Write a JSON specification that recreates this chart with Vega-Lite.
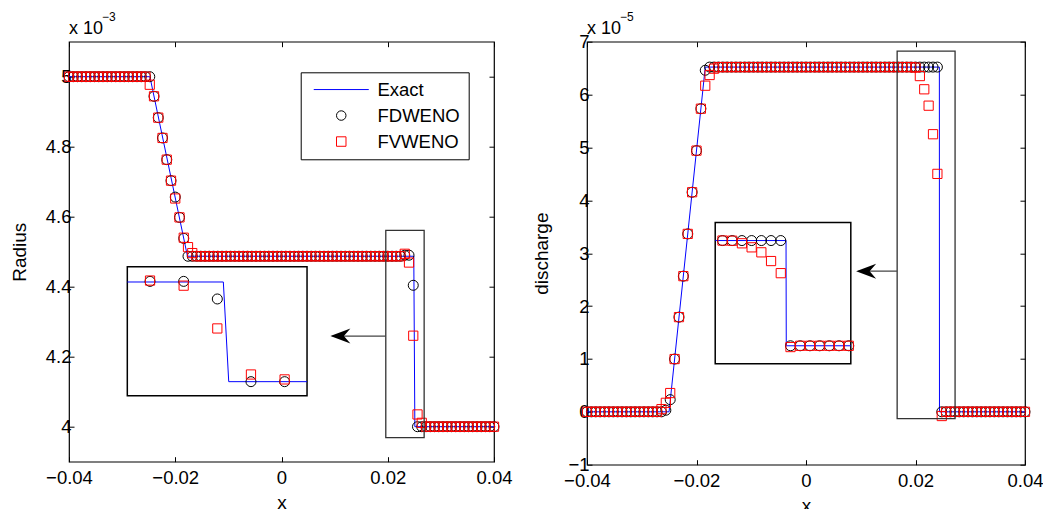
{
  "$schema": "https://vega.github.io/schema/vega-lite/v6.json",
  "padding": {"left": 9, "top": 9.7, "right": 5, "bottom": 0},
  "spacing": 19,
  "config": {
    "font": "Liberation Sans",
    "view": {"stroke": "#000", "strokeWidth": 1.2},
    "axis": {"grid": false, "domain": false, "labelFont": "Liberation Sans", "titleFont": "Liberation Sans", "labelFontSize": 18.5, "titleFontSize": 19, "titleFontWeight": "normal", "labelColor": "#000", "titleColor": "#000", "tickColor": "#000", "tickSize": -5, "tickWidth": 1, "labelFlush": false, "labelOverlap": false},
    "axisX": {"labelPadding": 12, "titlePadding": 6},
    "axisY": {"labelPadding": 3, "titlePadding": 16},
    "legend": {"orient": "none", "legendX": 231.7, "legendY": 30.6, "strokeColor": "#000", "fillColor": "#fff", "padding": 8, "labelFont": "Liberation Sans", "labelFontSize": 18.5, "labelColor": "#000", "symbolSize": 90, "symbolStrokeWidth": 1, "symbolOffset": 23.3, "labelOffset": 27, "rowPadding": 7, "title": null}
  },
  "datasets": {
    "one": [{}],
    "leftExact": [{"x": -0.04, "Exact": 5}, {"x": -0.02477, "Exact": 5}, {"x": -0.0177, "Exact": 4.487}, {"x": 0.0249, "Exact": 4.487}, {"x": 0.0251, "Exact": 4}, {"x": 0.04, "Exact": 4}],
    "leftInsetExact": [{"x": 0.02266, "Exact": 4.487}, {"x": 0.024943, "Exact": 4.487}, {"x": 0.025071, "Exact": 4}, {"x": 0.026933, "Exact": 4}],
    "rightExact": [{"x": -0.04, "Exact": 0}, {"x": -0.02501, "Exact": 0}, {"x": -0.0184, "Exact": 6.52}, {"x": 0.02436, "Exact": 6.52}, {"x": 0.02438, "Exact": 0}, {"x": 0.04, "Exact": 0}],
    "rightInsetExact": [{"x": 0.0186, "Exact": 6.52}, {"x": 0.024433, "Exact": 6.52}, {"x": 0.024453, "Exact": 0}, {"x": 0.029768, "Exact": 0}],
    "leftData": [
      {"x": -0.04, "FDWENO": 5, "FVWENO": 5}, {"x": -0.0392, "FDWENO": 5, "FVWENO": 5}, {"x": -0.0384, "FDWENO": 5, "FVWENO": 5}, {"x": -0.0376, "FDWENO": 5, "FVWENO": 5}, {"x": -0.0368, "FDWENO": 5, "FVWENO": 5}, {"x": -0.036, "FDWENO": 5, "FVWENO": 5}, {"x": -0.0352, "FDWENO": 5, "FVWENO": 5}, {"x": -0.0344, "FDWENO": 5, "FVWENO": 5}, {"x": -0.0336, "FDWENO": 5, "FVWENO": 5}, {"x": -0.0328, "FDWENO": 5, "FVWENO": 5},
      {"x": -0.032, "FDWENO": 5, "FVWENO": 5}, {"x": -0.0312, "FDWENO": 5, "FVWENO": 5}, {"x": -0.0304, "FDWENO": 5, "FVWENO": 5}, {"x": -0.0296, "FDWENO": 5, "FVWENO": 5}, {"x": -0.0288, "FDWENO": 5, "FVWENO": 5}, {"x": -0.028, "FDWENO": 5, "FVWENO": 5}, {"x": -0.0272, "FDWENO": 5, "FVWENO": 5}, {"x": -0.0264, "FDWENO": 5, "FVWENO": 5}, {"x": -0.0256, "FDWENO": 5, "FVWENO": 5}, {"x": -0.0248, "FDWENO": 5, "FVWENO": 4.977},
      {"x": -0.024, "FDWENO": 4.944, "FVWENO": 4.944}, {"x": -0.0232, "FDWENO": 4.883, "FVWENO": 4.883}, {"x": -0.0224, "FDWENO": 4.825, "FVWENO": 4.825}, {"x": -0.0216, "FDWENO": 4.763, "FVWENO": 4.763}, {"x": -0.0208, "FDWENO": 4.703, "FVWENO": 4.703}, {"x": -0.02, "FDWENO": 4.656, "FVWENO": 4.652}, {"x": -0.0192, "FDWENO": 4.598, "FVWENO": 4.598}, {"x": -0.0184, "FDWENO": 4.538, "FVWENO": 4.54}, {"x": -0.0176, "FDWENO": 4.487, "FVWENO": 4.513}, {"x": -0.0168, "FDWENO": 4.487, "FVWENO": 4.496},
      {"x": -0.016, "FDWENO": 4.487, "FVWENO": 4.487}, {"x": -0.0152, "FDWENO": 4.487, "FVWENO": 4.487}, {"x": -0.0144, "FDWENO": 4.487, "FVWENO": 4.487}, {"x": -0.0136, "FDWENO": 4.487, "FVWENO": 4.487}, {"x": -0.0128, "FDWENO": 4.487, "FVWENO": 4.487}, {"x": -0.012, "FDWENO": 4.487, "FVWENO": 4.487}, {"x": -0.0112, "FDWENO": 4.487, "FVWENO": 4.487}, {"x": -0.0104, "FDWENO": 4.487, "FVWENO": 4.487}, {"x": -0.0096, "FDWENO": 4.487, "FVWENO": 4.487}, {"x": -0.0088, "FDWENO": 4.487, "FVWENO": 4.487},
      {"x": -0.008, "FDWENO": 4.487, "FVWENO": 4.487}, {"x": -0.0072, "FDWENO": 4.487, "FVWENO": 4.487}, {"x": -0.0064, "FDWENO": 4.487, "FVWENO": 4.487}, {"x": -0.0056, "FDWENO": 4.487, "FVWENO": 4.487}, {"x": -0.0048, "FDWENO": 4.487, "FVWENO": 4.487}, {"x": -0.004, "FDWENO": 4.487, "FVWENO": 4.487}, {"x": -0.0032, "FDWENO": 4.487, "FVWENO": 4.487}, {"x": -0.0024, "FDWENO": 4.487, "FVWENO": 4.487}, {"x": -0.0016, "FDWENO": 4.487, "FVWENO": 4.487}, {"x": -0.0008, "FDWENO": 4.487, "FVWENO": 4.487},
      {"x": 0, "FDWENO": 4.487, "FVWENO": 4.487}, {"x": 0.0008, "FDWENO": 4.487, "FVWENO": 4.487}, {"x": 0.0016, "FDWENO": 4.487, "FVWENO": 4.487}, {"x": 0.0024, "FDWENO": 4.487, "FVWENO": 4.487}, {"x": 0.0032, "FDWENO": 4.487, "FVWENO": 4.487}, {"x": 0.004, "FDWENO": 4.487, "FVWENO": 4.487}, {"x": 0.0048, "FDWENO": 4.487, "FVWENO": 4.487}, {"x": 0.0056, "FDWENO": 4.487, "FVWENO": 4.487}, {"x": 0.0064, "FDWENO": 4.487, "FVWENO": 4.487}, {"x": 0.0072, "FDWENO": 4.487, "FVWENO": 4.487},
      {"x": 0.008, "FDWENO": 4.487, "FVWENO": 4.487}, {"x": 0.0088, "FDWENO": 4.487, "FVWENO": 4.487}, {"x": 0.0096, "FDWENO": 4.487, "FVWENO": 4.487}, {"x": 0.0104, "FDWENO": 4.487, "FVWENO": 4.487}, {"x": 0.0112, "FDWENO": 4.487, "FVWENO": 4.487}, {"x": 0.012, "FDWENO": 4.487, "FVWENO": 4.487}, {"x": 0.0128, "FDWENO": 4.487, "FVWENO": 4.487}, {"x": 0.0136, "FDWENO": 4.487, "FVWENO": 4.487}, {"x": 0.0144, "FDWENO": 4.487, "FVWENO": 4.487}, {"x": 0.0152, "FDWENO": 4.487, "FVWENO": 4.487},
      {"x": 0.016, "FDWENO": 4.487, "FVWENO": 4.487}, {"x": 0.0168, "FDWENO": 4.487, "FVWENO": 4.487}, {"x": 0.0176, "FDWENO": 4.487, "FVWENO": 4.487}, {"x": 0.0184, "FDWENO": 4.487, "FVWENO": 4.487}, {"x": 0.0192, "FDWENO": 4.487, "FVWENO": 4.487}, {"x": 0.02, "FDWENO": 4.487, "FVWENO": 4.487}, {"x": 0.0208, "FDWENO": 4.487, "FVWENO": 4.487}, {"x": 0.0216, "FDWENO": 4.487, "FVWENO": 4.487}, {"x": 0.0224, "FDWENO": 4.487, "FVWENO": 4.487}, {"x": 0.0232, "FDWENO": 4.49, "FVWENO": 4.494},
      {"x": 0.024, "FDWENO": 4.49, "FVWENO": 4.469}, {"x": 0.0248, "FDWENO": 4.404, "FVWENO": 4.26}, {"x": 0.0256, "FDWENO": 4, "FVWENO": 4.035}, {"x": 0.0264, "FDWENO": 4, "FVWENO": 4.011}, {"x": 0.0272, "FDWENO": 4, "FVWENO": 4}, {"x": 0.028, "FDWENO": 4, "FVWENO": 4}, {"x": 0.0288, "FDWENO": 4, "FVWENO": 4}, {"x": 0.0296, "FDWENO": 4, "FVWENO": 4}, {"x": 0.0304, "FDWENO": 4, "FVWENO": 4}, {"x": 0.0312, "FDWENO": 4, "FVWENO": 4},
      {"x": 0.032, "FDWENO": 4, "FVWENO": 4}, {"x": 0.0328, "FDWENO": 4, "FVWENO": 4}, {"x": 0.0336, "FDWENO": 4, "FVWENO": 4}, {"x": 0.0344, "FDWENO": 4, "FVWENO": 4}, {"x": 0.0352, "FDWENO": 4, "FVWENO": 4}, {"x": 0.036, "FDWENO": 4, "FVWENO": 4}, {"x": 0.0368, "FDWENO": 4, "FVWENO": 4}, {"x": 0.0376, "FDWENO": 4, "FVWENO": 4}, {"x": 0.0384, "FDWENO": 4, "FVWENO": 4}, {"x": 0.0392, "FDWENO": 4, "FVWENO": 4},
      {"x": 0.04, "FDWENO": 4, "FVWENO": 4}
    ],
    "rightData": [
      {"x": -0.04, "FDWENO": 0, "FVWENO": 0}, {"x": -0.0392, "FDWENO": 0, "FVWENO": 0}, {"x": -0.0384, "FDWENO": 0, "FVWENO": 0}, {"x": -0.0376, "FDWENO": 0, "FVWENO": 0}, {"x": -0.0368, "FDWENO": 0, "FVWENO": 0}, {"x": -0.036, "FDWENO": 0, "FVWENO": 0}, {"x": -0.0352, "FDWENO": 0, "FVWENO": 0}, {"x": -0.0344, "FDWENO": 0, "FVWENO": 0}, {"x": -0.0336, "FDWENO": 0, "FVWENO": 0}, {"x": -0.0328, "FDWENO": 0, "FVWENO": 0},
      {"x": -0.032, "FDWENO": 0, "FVWENO": 0}, {"x": -0.0312, "FDWENO": 0, "FVWENO": 0}, {"x": -0.0304, "FDWENO": 0, "FVWENO": 0}, {"x": -0.0296, "FDWENO": 0, "FVWENO": 0}, {"x": -0.0288, "FDWENO": 0, "FVWENO": 0}, {"x": -0.028, "FDWENO": 0, "FVWENO": 0}, {"x": -0.0272, "FDWENO": 0, "FVWENO": 0}, {"x": -0.0264, "FDWENO": 0, "FVWENO": 0.05}, {"x": -0.0256, "FDWENO": 0.03, "FVWENO": 0.17}, {"x": -0.0248, "FDWENO": 0.23, "FVWENO": 0.355},
      {"x": -0.024, "FDWENO": 0.998, "FVWENO": 0.998}, {"x": -0.0232, "FDWENO": 1.791, "FVWENO": 1.791}, {"x": -0.0224, "FDWENO": 2.566, "FVWENO": 2.566}, {"x": -0.0216, "FDWENO": 3.365, "FVWENO": 3.365}, {"x": -0.0208, "FDWENO": 4.153, "FVWENO": 4.153}, {"x": -0.02, "FDWENO": 4.94, "FVWENO": 4.94}, {"x": -0.0192, "FDWENO": 5.733, "FVWENO": 5.733}, {"x": -0.0184, "FDWENO": 6.46, "FVWENO": 6.168}, {"x": -0.0176, "FDWENO": 6.52, "FVWENO": 6.37}, {"x": -0.0168, "FDWENO": 6.52, "FVWENO": 6.49},
      {"x": -0.016, "FDWENO": 6.52, "FVWENO": 6.52}, {"x": -0.0152, "FDWENO": 6.52, "FVWENO": 6.52}, {"x": -0.0144, "FDWENO": 6.52, "FVWENO": 6.52}, {"x": -0.0136, "FDWENO": 6.52, "FVWENO": 6.52}, {"x": -0.0128, "FDWENO": 6.52, "FVWENO": 6.52}, {"x": -0.012, "FDWENO": 6.52, "FVWENO": 6.52}, {"x": -0.0112, "FDWENO": 6.52, "FVWENO": 6.52}, {"x": -0.0104, "FDWENO": 6.52, "FVWENO": 6.52}, {"x": -0.0096, "FDWENO": 6.52, "FVWENO": 6.52}, {"x": -0.0088, "FDWENO": 6.52, "FVWENO": 6.52},
      {"x": -0.008, "FDWENO": 6.52, "FVWENO": 6.52}, {"x": -0.0072, "FDWENO": 6.52, "FVWENO": 6.52}, {"x": -0.0064, "FDWENO": 6.52, "FVWENO": 6.52}, {"x": -0.0056, "FDWENO": 6.52, "FVWENO": 6.52}, {"x": -0.0048, "FDWENO": 6.52, "FVWENO": 6.52}, {"x": -0.004, "FDWENO": 6.52, "FVWENO": 6.52}, {"x": -0.0032, "FDWENO": 6.52, "FVWENO": 6.52}, {"x": -0.0024, "FDWENO": 6.52, "FVWENO": 6.52}, {"x": -0.0016, "FDWENO": 6.52, "FVWENO": 6.52}, {"x": -0.0008, "FDWENO": 6.52, "FVWENO": 6.52},
      {"x": 0, "FDWENO": 6.52, "FVWENO": 6.52}, {"x": 0.0008, "FDWENO": 6.52, "FVWENO": 6.52}, {"x": 0.0016, "FDWENO": 6.52, "FVWENO": 6.52}, {"x": 0.0024, "FDWENO": 6.52, "FVWENO": 6.52}, {"x": 0.0032, "FDWENO": 6.52, "FVWENO": 6.52}, {"x": 0.004, "FDWENO": 6.52, "FVWENO": 6.52}, {"x": 0.0048, "FDWENO": 6.52, "FVWENO": 6.52}, {"x": 0.0056, "FDWENO": 6.52, "FVWENO": 6.52}, {"x": 0.0064, "FDWENO": 6.52, "FVWENO": 6.52}, {"x": 0.0072, "FDWENO": 6.52, "FVWENO": 6.52},
      {"x": 0.008, "FDWENO": 6.52, "FVWENO": 6.52}, {"x": 0.0088, "FDWENO": 6.52, "FVWENO": 6.52}, {"x": 0.0096, "FDWENO": 6.52, "FVWENO": 6.52}, {"x": 0.0104, "FDWENO": 6.52, "FVWENO": 6.52}, {"x": 0.0112, "FDWENO": 6.52, "FVWENO": 6.52}, {"x": 0.012, "FDWENO": 6.52, "FVWENO": 6.52}, {"x": 0.0128, "FDWENO": 6.52, "FVWENO": 6.52}, {"x": 0.0136, "FDWENO": 6.52, "FVWENO": 6.52}, {"x": 0.0144, "FDWENO": 6.52, "FVWENO": 6.52}, {"x": 0.0152, "FDWENO": 6.52, "FVWENO": 6.52},
      {"x": 0.016, "FDWENO": 6.52, "FVWENO": 6.52}, {"x": 0.0168, "FDWENO": 6.52, "FVWENO": 6.52}, {"x": 0.0176, "FDWENO": 6.52, "FVWENO": 6.52}, {"x": 0.0184, "FDWENO": 6.52, "FVWENO": 6.52}, {"x": 0.0192, "FDWENO": 6.52, "FVWENO": 6.52}, {"x": 0.02, "FDWENO": 6.52, "FVWENO": 6.51}, {"x": 0.0208, "FDWENO": 6.52, "FVWENO": 6.35}, {"x": 0.0216, "FDWENO": 6.52, "FVWENO": 6.1}, {"x": 0.0224, "FDWENO": 6.52, "FVWENO": 5.79}, {"x": 0.0232, "FDWENO": 6.52, "FVWENO": 5.25},
      {"x": 0.024, "FDWENO": 6.52, "FVWENO": 4.5}, {"x": 0.0248, "FDWENO": 0, "FVWENO": -0.08}, {"x": 0.0256, "FDWENO": 0, "FVWENO": 0}, {"x": 0.0264, "FDWENO": 0, "FVWENO": 0}, {"x": 0.0272, "FDWENO": 0, "FVWENO": 0}, {"x": 0.028, "FDWENO": 0, "FVWENO": 0}, {"x": 0.0288, "FDWENO": 0, "FVWENO": 0}, {"x": 0.0296, "FDWENO": 0, "FVWENO": 0}, {"x": 0.0304, "FDWENO": 0, "FVWENO": 0}, {"x": 0.0312, "FDWENO": 0, "FVWENO": 0},
      {"x": 0.032, "FDWENO": 0, "FVWENO": 0}, {"x": 0.0328, "FDWENO": 0, "FVWENO": 0}, {"x": 0.0336, "FDWENO": 0, "FVWENO": 0}, {"x": 0.0344, "FDWENO": 0, "FVWENO": 0}, {"x": 0.0352, "FDWENO": 0, "FVWENO": 0}, {"x": 0.036, "FDWENO": 0, "FVWENO": 0}, {"x": 0.0368, "FDWENO": 0, "FVWENO": 0}, {"x": 0.0376, "FDWENO": 0, "FVWENO": 0}, {"x": 0.0384, "FDWENO": 0, "FVWENO": 0}, {"x": 0.0392, "FDWENO": 0, "FVWENO": 0},
      {"x": 0.04, "FDWENO": 0, "FVWENO": 0}
    ]
  },
  "hconcat": [
    {
      "width": 425,
      "height": 420,
      "resolve": {"scale": {"x": "independent", "y": "independent"}},
      "layer": [
        {
          "resolve": {"axis": {"x": "independent", "y": "independent"}},
          "layer": [
            {
              "layer": [
                {
                  "data": {"name": "leftExact"},
                  "transform": [{"fold": ["Exact"], "as": ["method", "value"]}],
                  "mark": {"type": "line", "strokeWidth": 1},
                  "encoding": {
                    "x": {"field": "x", "type": "quantitative", "scale": {"domain": [-0.04, 0.04], "nice": false, "zero": false}, "axis": {"title": "x", "values": [-0.04, -0.02, 0, 0.02, 0.04], "format": "~g"}},
                    "y": {"field": "value", "type": "quantitative", "scale": {"domain": [3.9, 5.1], "nice": false, "zero": false}, "axis": {"title": "Radius", "values": [4, 4.2, 4.4, 4.6, 4.8, 5], "format": "~g"}},
                    "color": {"field": "method", "type": "nominal", "scale": {"domain": ["Exact", "FDWENO", "FVWENO"], "range": ["#0000ff", "#000000", "#ff0000"]}, "legend": {"title": null}}
                  }
                },
                {
                  "data": {"name": "leftData"},
                  "transform": [{"fold": ["FDWENO"], "as": ["method", "value"]}],
                  "mark": {"type": "point", "filled": false, "size": 100, "strokeWidth": 1, "opacity": 1},
                  "encoding": {
                    "x": {"field": "x", "type": "quantitative"},
                    "y": {"field": "value", "type": "quantitative"},
                    "color": {"field": "method", "type": "nominal"},
                    "shape": {"field": "method", "type": "nominal", "scale": {"domain": ["Exact", "FDWENO", "FVWENO"], "range": ["M-5.8,0L5.8,0", "circle", "square"]}, "legend": {"title": null}}
                  }
                },
                {
                  "data": {"name": "leftData"},
                  "transform": [{"fold": ["FVWENO"], "as": ["method", "value"]}],
                  "mark": {"type": "point", "filled": false, "size": 85, "strokeWidth": 1, "opacity": 1},
                  "encoding": {
                    "x": {"field": "x", "type": "quantitative"},
                    "y": {"field": "value", "type": "quantitative"},
                    "color": {"field": "method", "type": "nominal"},
                    "shape": {"field": "method", "type": "nominal"}
                  }
                },
                {
                  "data": {"name": "one"},
                  "mark": {"type": "rect", "filled": false, "stroke": "#333", "strokeWidth": 1.3},
                  "encoding": {"x": {"datum": 0.01963, "type": "quantitative"}, "x2": {"datum": 0.02685}, "y": {"datum": 3.969, "type": "quantitative"}, "y2": {"datum": 4.561}}
                },
                {
                  "data": {"name": "one"},
                  "mark": {"type": "rule", "stroke": "#444", "strokeWidth": 1.3},
                  "encoding": {"x": {"datum": 0.0096, "type": "quantitative"}, "x2": {"datum": 0.01963}, "y": {"datum": 4.259, "type": "quantitative"}}
                },
                {
                  "data": {"name": "one"},
                  "mark": {"type": "point", "shape": "M0,0L2,-0.75L1.35,0L2,0.75Z", "size": 400, "filled": true, "color": "#000", "opacity": 1, "strokeWidth": 0},
                  "encoding": {"x": {"datum": 0.0092, "type": "quantitative"}, "y": {"datum": 4.259, "type": "quantitative"}}
                },
                {
                  "data": {"name": "one"},
                  "mark": {"type": "text", "text": "x 10", "align": "left", "baseline": "alphabetic", "dy": -8, "fontSize": 18, "font": "Liberation Sans", "color": "#000"},
                  "encoding": {"x": {"datum": -0.04, "type": "quantitative"}, "y": {"datum": 5.1, "type": "quantitative"}}
                },
                {
                  "data": {"name": "one"},
                  "mark": {"type": "text", "text": "−3", "align": "left", "baseline": "alphabetic", "dx": 33, "dy": -21, "fontSize": 12, "font": "Liberation Sans", "color": "#000"},
                  "encoding": {"x": {"datum": -0.04, "type": "quantitative"}, "y": {"datum": 5.1, "type": "quantitative"}}
                }
              ]
            },
            {
              "data": {"name": "leftExact"},
              "mark": {"type": "point", "opacity": 0},
              "encoding": {
                "x": {"field": "x", "type": "quantitative", "axis": {"orient": "top", "labels": false, "title": null, "values": [-0.04, -0.02, 0, 0.02, 0.04]}},
                "y": {"field": "Exact", "type": "quantitative", "axis": {"orient": "right", "labels": false, "title": null, "values": [4, 4.2, 4.4, 4.6, 4.8, 5]}}
              }
            }
          ]
        },
        {
          "layer": [
            {
              "data": {"name": "one"},
              "mark": {"type": "rect", "fill": "#fff", "stroke": "#000", "strokeWidth": 1.5},
              "encoding": {"x": {"datum": 0.02266, "type": "quantitative", "scale": {"domain": [0.021274, 0.031378], "nice": false, "zero": false}, "axis": null}, "x2": {"datum": 0.026933}, "y": {"datum": 3.9316, "type": "quantitative", "scale": {"domain": [3.609, 5.661], "nice": false, "zero": false}, "axis": null}, "y2": {"datum": 4.5617}}
            },
            {
              "data": {"name": "leftInsetExact"},
              "transform": [{"fold": ["Exact"], "as": ["method", "value"]}],
              "mark": {"type": "line", "strokeWidth": 1},
              "encoding": {
                "x": {"field": "x", "type": "quantitative", "axis": null},
                "y": {"field": "value", "type": "quantitative", "axis": null},
                "color": {"field": "method", "type": "nominal"}
              }
            },
            {
              "data": {"name": "leftData"},
              "transform": [{"filter": "datum.x > 0.023 && datum.x < 0.0266"}, {"fold": ["FDWENO"], "as": ["method", "value"]}],
              "mark": {"type": "point", "filled": false, "size": 100, "strokeWidth": 1, "opacity": 1},
              "encoding": {
                "x": {"field": "x", "type": "quantitative", "axis": null},
                "y": {"field": "value", "type": "quantitative", "axis": null},
                "color": {"field": "method", "type": "nominal"},
                "shape": {"field": "method", "type": "nominal"}
              }
            },
            {
              "data": {"name": "leftData"},
              "transform": [{"filter": "datum.x > 0.023 && datum.x < 0.0266"}, {"fold": ["FVWENO"], "as": ["method", "value"]}],
              "mark": {"type": "point", "filled": false, "size": 85, "strokeWidth": 1, "opacity": 1},
              "encoding": {
                "x": {"field": "x", "type": "quantitative", "axis": null},
                "y": {"field": "value", "type": "quantitative", "axis": null},
                "color": {"field": "method", "type": "nominal"},
                "shape": {"field": "method", "type": "nominal"}
              }
            }
          ]
        }
      ]
    },
    {
      "width": 438,
      "height": 423,
      "resolve": {"scale": {"x": "independent", "y": "independent"}},
      "layer": [
        {
          "resolve": {"axis": {"x": "independent", "y": "independent"}},
          "layer": [
            {
              "layer": [
                {
                  "data": {"name": "rightExact"},
                  "transform": [{"fold": ["Exact"], "as": ["method", "value"]}],
                  "mark": {"type": "line", "strokeWidth": 1},
                  "encoding": {
                    "x": {"field": "x", "type": "quantitative", "scale": {"domain": [-0.04, 0.04], "nice": false, "zero": false}, "axis": {"title": "x", "values": [-0.04, -0.02, 0, 0.02, 0.04], "format": "~g"}},
                    "y": {"field": "value", "type": "quantitative", "scale": {"domain": [-1, 7], "nice": false, "zero": false}, "axis": {"title": "discharge", "values": [-1, 0, 1, 2, 3, 4, 5, 6, 7], "format": "~g"}},
                    "color": {"field": "method", "type": "nominal"}
                  }
                },
                {
                  "data": {"name": "rightData"},
                  "transform": [{"fold": ["FDWENO"], "as": ["method", "value"]}],
                  "mark": {"type": "point", "filled": false, "size": 100, "strokeWidth": 1, "opacity": 1},
                  "encoding": {
                    "x": {"field": "x", "type": "quantitative"},
                    "y": {"field": "value", "type": "quantitative"},
                    "color": {"field": "method", "type": "nominal"},
                    "shape": {"field": "method", "type": "nominal"}
                  }
                },
                {
                  "data": {"name": "rightData"},
                  "transform": [{"fold": ["FVWENO"], "as": ["method", "value"]}],
                  "mark": {"type": "point", "filled": false, "size": 85, "strokeWidth": 1, "opacity": 1},
                  "encoding": {
                    "x": {"field": "x", "type": "quantitative"},
                    "y": {"field": "value", "type": "quantitative"},
                    "color": {"field": "method", "type": "nominal"},
                    "shape": {"field": "method", "type": "nominal"}
                  }
                },
                {
                  "data": {"name": "one"},
                  "mark": {"type": "rect", "filled": false, "stroke": "#333", "strokeWidth": 1.3},
                  "encoding": {"x": {"datum": 0.01665, "type": "quantitative"}, "x2": {"datum": 0.02723}, "y": {"datum": -0.13, "type": "quantitative"}, "y2": {"datum": 6.823}}
                },
                {
                  "data": {"name": "one"},
                  "mark": {"type": "rule", "stroke": "#444", "strokeWidth": 1.3},
                  "encoding": {"x": {"datum": 0.0096, "type": "quantitative"}, "x2": {"datum": 0.01665}, "y": {"datum": 2.66, "type": "quantitative"}}
                },
                {
                  "data": {"name": "one"},
                  "mark": {"type": "point", "shape": "M0,0L2,-0.75L1.35,0L2,0.75Z", "size": 400, "filled": true, "color": "#000", "opacity": 1, "strokeWidth": 0},
                  "encoding": {"x": {"datum": 0.00916, "type": "quantitative"}, "y": {"datum": 2.66, "type": "quantitative"}}
                },
                {
                  "data": {"name": "one"},
                  "mark": {"type": "text", "text": "x 10", "align": "left", "baseline": "alphabetic", "dy": -8, "fontSize": 18, "font": "Liberation Sans", "color": "#000"},
                  "encoding": {"x": {"datum": -0.04, "type": "quantitative"}, "y": {"datum": 7, "type": "quantitative"}}
                },
                {
                  "data": {"name": "one"},
                  "mark": {"type": "text", "text": "−5", "align": "left", "baseline": "alphabetic", "dx": 33, "dy": -21, "fontSize": 12, "font": "Liberation Sans", "color": "#000"},
                  "encoding": {"x": {"datum": -0.04, "type": "quantitative"}, "y": {"datum": 7, "type": "quantitative"}}
                }
              ]
            },
            {
              "data": {"name": "rightExact"},
              "mark": {"type": "point", "opacity": 0},
              "encoding": {
                "x": {"field": "x", "type": "quantitative", "axis": {"orient": "top", "labels": false, "title": null, "values": [-0.04, -0.02, 0, 0.02, 0.04]}},
                "y": {"field": "Exact", "type": "quantitative", "axis": {"orient": "right", "labels": false, "title": null, "values": [-1, 0, 1, 2, 3, 4, 5, 6, 7]}}
              }
            }
          ]
        },
        {
          "layer": [
            {
              "data": {"name": "one"},
              "mark": {"type": "rect", "fill": "#fff", "stroke": "#000", "strokeWidth": 1.5},
              "encoding": {"x": {"datum": 0.0186, "type": "quantitative", "scale": {"domain": [0.00804, 0.044114], "nice": false, "zero": false}, "axis": null}, "x2": {"datum": 0.029768}, "y": {"datum": -1.115, "type": "quantitative", "scale": {"domain": [-7.368, 18.842], "nice": false, "zero": false}, "axis": null}, "y2": {"datum": 7.635}}
            },
            {
              "data": {"name": "rightInsetExact"},
              "transform": [{"fold": ["Exact"], "as": ["method", "value"]}],
              "mark": {"type": "line", "strokeWidth": 1},
              "encoding": {
                "x": {"field": "x", "type": "quantitative", "axis": null},
                "y": {"field": "value", "type": "quantitative", "axis": null},
                "color": {"field": "method", "type": "nominal"}
              }
            },
            {
              "data": {"name": "rightData"},
              "transform": [{"filter": "datum.x > 0.019 && datum.x < 0.0297"}, {"fold": ["FDWENO"], "as": ["method", "value"]}],
              "mark": {"type": "point", "filled": false, "size": 100, "strokeWidth": 1, "opacity": 1},
              "encoding": {
                "x": {"field": "x", "type": "quantitative", "axis": null},
                "y": {"field": "value", "type": "quantitative", "axis": null},
                "color": {"field": "method", "type": "nominal"},
                "shape": {"field": "method", "type": "nominal"}
              }
            },
            {
              "data": {"name": "rightData"},
              "transform": [{"filter": "datum.x > 0.019 && datum.x < 0.0297"}, {"fold": ["FVWENO"], "as": ["method", "value"]}],
              "mark": {"type": "point", "filled": false, "size": 85, "strokeWidth": 1, "opacity": 1},
              "encoding": {
                "x": {"field": "x", "type": "quantitative", "axis": null},
                "y": {"field": "value", "type": "quantitative", "axis": null},
                "color": {"field": "method", "type": "nominal"},
                "shape": {"field": "method", "type": "nominal"}
              }
            }
          ]
        }
      ]
    }
  ]
}
